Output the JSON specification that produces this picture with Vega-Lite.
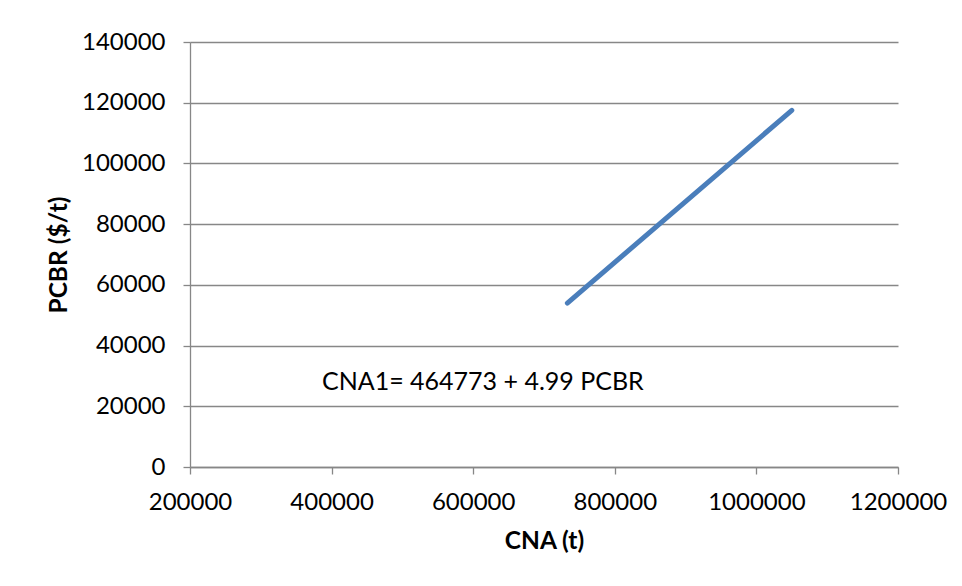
{
  "$schema": "https://vega.github.io/schema/vega-lite/v6.json",
  "autosize": {"type": "none"},
  "padding": {"left": 190, "top": 42, "right": 64, "bottom": 119},
  "width": 708,
  "height": 425,
  "background": "white",
  "config": {
    "view": {"stroke": null},
    "font": "Lato",
    "axis": {
      "labelFont": "Lato",
      "labelFontSize": 24,
      "labelColor": "#000000",
      "titleFont": "Lato",
      "titleFontSize": 24.5,
      "titleFontWeight": "bold",
      "titleColor": "#000000",
      "domainColor": "#878787",
      "domainWidth": 1.3,
      "tickColor": "#878787",
      "tickWidth": 1.3,
      "tickSize": 7,
      "gridColor": "#878787",
      "gridWidth": 1.3
    }
  },
  "layer": [
    {
      "data": {"values": [
        {"CNA": 733000, "PCBR": 54000},
        {"CNA": 1050000, "PCBR": 117500}
      ]},
      "mark": {"type": "line", "color": "#4A7EBB", "strokeWidth": 5, "strokeCap": "round", "clip": false},
      "encoding": {
        "x": {
          "field": "CNA", "type": "quantitative", "title": "CNA (t)",
          "scale": {"domain": [200000, 1200000], "nice": false, "zero": false},
          "axis": {"values": [200000, 400000, 600000, 800000, 1000000, 1200000], "format": "d", "grid": false, "labelPadding": 16, "titlePadding": 15, "labelFlush": false}
        },
        "y": {
          "field": "PCBR", "type": "quantitative", "title": "PCBR ($/t)",
          "scale": {"domain": [0, 140000], "nice": false},
          "axis": {"values": [0, 20000, 40000, 60000, 80000, 100000, 120000, 140000], "format": "d", "grid": true, "labelPadding": 18, "titlePadding": 10, "labelFlush": false}
        }
      }
    },
    {
      "data": {"values": [
        {"label": "CNA1= 464773 + 4.99 PCBR", "CNA": 386400, "PCBR": 28000}
      ]},
      "mark": {"type": "text", "align": "left", "baseline": "middle", "fontSize": 25, "font": "Lato", "color": "#000000"},
      "encoding": {
        "x": {"field": "CNA", "type": "quantitative"},
        "y": {"field": "PCBR", "type": "quantitative"},
        "text": {"field": "label"}
      }
    }
  ]
}
